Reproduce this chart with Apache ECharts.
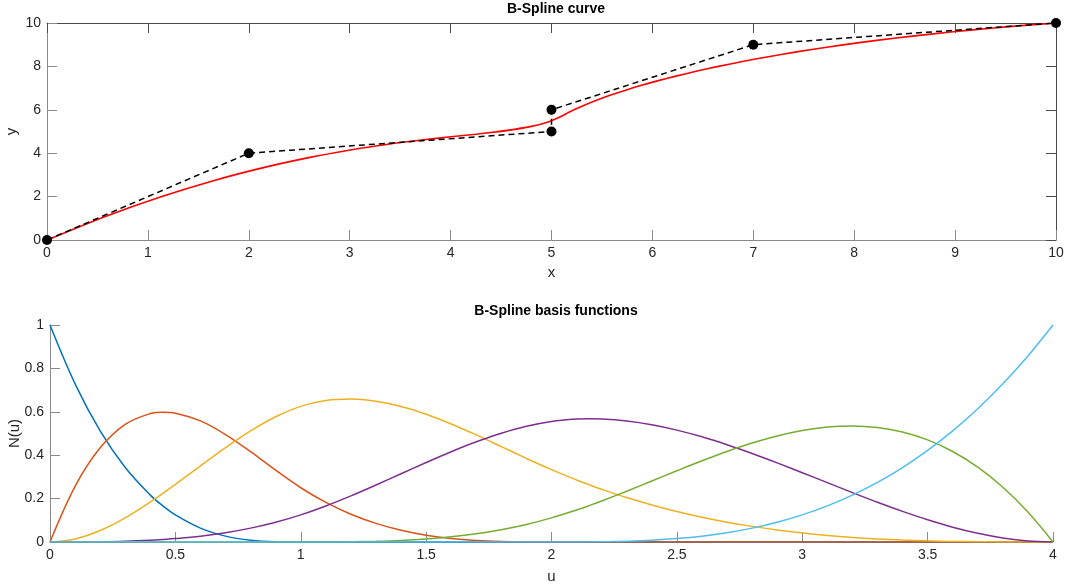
<!DOCTYPE html>
<html>
<head>
<meta charset="utf-8">
<script src="https://cdn.jsdelivr.net/npm/echarts@6/dist/echarts.min.js"></script>
<style>
html,body{margin:0;padding:0;background:#fff;}
#c{width:1067px;height:585px;}
</style>
</head>
<body>
<div id="c"></div>
<script>
// Control polygon
var ctrlX = [0, 2, 5, 5, 7, 10];
var ctrlY = [0, 4, 5, 6, 9, 10];

// B-spline curve samples
var curveX = [0,0.585,1.138,1.658,2.144,2.594,3.006,3.379,3.712,4.003,4.25,4.453,4.618,4.749,4.852,4.934,5.0,5.056,5.108,5.161,5.222,5.296,5.383,5.485,5.602,5.734,5.883,6.049,6.232,6.433,6.653,6.892,7.15,7.429,7.729,8.05,8.394,8.76,9.149,9.562,10];
var curveY = [0,1.098,2.007,2.746,3.336,3.797,4.149,4.413,4.608,4.755,4.875,4.984,5.088,5.189,5.289,5.391,5.496,5.607,5.727,5.857,6.0,6.157,6.328,6.511,6.704,6.906,7.116,7.332,7.552,7.775,8.0,8.225,8.448,8.668,8.884,9.094,9.296,9.489,9.672,9.843,10];

// Parameter samples for basis functions
var uVals = [0,0.1,0.2,0.3,0.4,0.45,0.5,0.6,0.7,0.8,0.9,1,
             1.1,1.2,1.3,1.4,1.5,1.6,1.7,1.8,1.9,2,
             2.1,2.15,
             2.2,2.3,2.4,2.5,2.6,2.7,2.8,2.9,3,3.1,3.2,3.3,3.4,3.5,3.6,3.7,3.8,3.9,4];

var N0 = [1,0.729,0.512,0.343,0.216,0.1664,0.125,0.064,0.027,0.008,0.001,0,
          0,0,0,0,0,0,0,0,0,0,
          0,0,
          0,0,0,0,0,0,0,0,0,0,0,0,0,0,0,0,0,0,0];
var N1 = [0,0.2568,0.434,0.5423,0.592,0.5982,0.5938,0.558,0.4953,0.416,0.3308,0.25,
          0.1823,0.128,0.0858,0.054,0.0313,0.016,0.0068,0.002,0.0003,0,
          0,0,
          0,0,0,0,0,0,0,0,0,0,0,0,0,0,0,0,0,0,0];
var N2 = [0,0.0141,0.053,0.1114,0.184,0.224,0.2656,0.351,0.4349,0.512,0.5771,0.625,
          0.6517,0.6587,0.6486,0.6243,0.5885,0.544,0.4935,0.4397,0.3854,0.3333,
          0.2858,0.2638,
          0.243,0.2047,0.1707,0.1406,0.1143,0.0915,0.072,0.0555,0.0417,0.0304,0.0213,0.0143,0.009,0.0052,0.0027,0.0011,0.0003,0.00004,0];
var N3 = [0,0.0001,0.001,0.0034,0.008,0.0114,0.0156,0.027,0.0429,0.064,0.0911,0.125,
          0.1659,0.2124,0.2626,0.3146,0.3663,0.416,0.4617,0.5014,0.5334,0.5556,
          0.5666,0.568,
          0.567,0.5579,0.5404,0.5156,0.4846,0.4483,0.408,0.3647,0.3194,0.2734,0.2276,0.1831,0.141,0.1024,0.0684,0.0401,0.0186,0.0048,0];
var N4 = [0,0,0,0,0,0,0,0,0,0,0,0,
          0.0001,0.0009,0.003,0.0071,0.0139,0.024,0.0381,0.0569,0.081,0.1111,
          0.1475,0.1677,
          0.189,0.234,0.2809,0.3281,0.3741,0.4173,0.456,0.4887,0.5139,0.5299,0.5351,0.528,0.507,0.4705,0.4169,0.3446,0.2521,0.1378,0];
var N5 = [0,0,0,0,0,0,0,0,0,0,0,0,
          0,0,0,0,0,0,0,0,0,0,
          0.0001,0.0004,
          0.001,0.0034,0.008,0.0156,0.027,0.0429,0.064,0.0911,0.125,0.1664,0.216,0.2746,0.343,0.4219,0.512,0.6141,0.729,0.8574,1];

var basisColors = ['#0072BD','#D95319','#EDB120','#7E2F8E','#77AC30','#4DBEEE'];
var basis = [N0, N1, N2, N3, N4, N5];

function zip(a, b) { return a.map(function (v, i) { return [v, b[i]]; }); }

var FONT = 'Liberation Sans, Arial, sans-serif';
var TXT = '#262626';
var AX = '#8a8a8a';
var BOX = '#4a4a4a';

function mainAxis(extra) {
  var o = {
    type: 'value',
    axisLine: { show: true, onZero: false, lineStyle: { color: AX, width: 1 } },
    axisTick: { show: true, inside: true, length: 10, lineStyle: { color: AX } },
    axisLabel: { color: TXT, fontFamily: FONT, fontSize: 14, margin: 6 },
    splitLine: { show: false },
    nameLocation: 'middle',
    nameMoveOverlap: false,
    nameTextStyle: { color: TXT, fontFamily: FONT, fontSize: 15 }
  };
  for (var k in extra) o[k] = extra[k];
  return o;
}
function boxAxis(extra) {
  var o = {
    type: 'value',
    axisLine: { show: true, onZero: false, lineStyle: { color: BOX, width: 1 } },
    axisTick: { show: true, inside: true, length: 10, lineStyle: { color: BOX } },
    axisLabel: { show: false },
    splitLine: { show: false }
  };
  for (var k in extra) o[k] = extra[k];
  return o;
}

var series = [];
series.push({
  type: 'line', xAxisIndex: 0, yAxisIndex: 0,
  data: zip(curveX, curveY), showSymbol: false, symbol: 'none', smooth: 0.3,
  lineStyle: { color: '#ff0000', width: 1.6 }, z: 2, animation: false
});
series.push({
  type: 'line', xAxisIndex: 0, yAxisIndex: 0,
  data: zip(ctrlX, ctrlY), symbol: 'circle', symbolSize: 10,
  itemStyle: { color: '#000' },
  lineStyle: { color: '#000', width: 1.5, type: [6, 4] }, z: 3, animation: false
});
basis.forEach(function (arr, i) {
  series.push({
    type: 'line', xAxisIndex: 1, yAxisIndex: 1,
    data: zip(uVals, arr), symbol: 'none', smooth: 0.35,
    lineStyle: { color: basisColors[i], width: 1.5 }, z: 2 + i, animation: false
  });
});

var chart = echarts.init(document.getElementById('c'), null, { renderer: 'canvas' });
chart.setOption({
  backgroundColor: '#fff',
  animation: false,
  title: [
    { text: 'B-Spline curve', left: 551, top: -3, textAlign: 'center',
      textStyle: { fontFamily: FONT, fontSize: 14, fontWeight: 'bold', color: '#000' } },
    { text: 'B-Spline basis functions', left: 551, top: 299, textAlign: 'center',
      textStyle: { fontFamily: FONT, fontSize: 14, fontWeight: 'bold', color: '#000' } }
  ],
  grid: [
    { left: 47, right: 11, top: 23, height: 217, containLabel: false, outerBoundsMode: 'none' },
    { left: 50, right: 14, top: 325, height: 217, containLabel: false, outerBoundsMode: 'none' }
  ],
  xAxis: [
    mainAxis({ gridIndex: 0, min: 0, max: 10, interval: 1, name: 'x', nameGap: 25 }),
    mainAxis({ gridIndex: 1, min: 0, max: 4, interval: 0.5, name: 'u', nameGap: 27 }),
    boxAxis({ gridIndex: 0, position: 'top', min: 0, max: 10, interval: 1 })
  ],
  yAxis: [
    mainAxis({ gridIndex: 0, min: 0, max: 10, interval: 2, name: 'y', nameGap: 28 }),
    mainAxis({ gridIndex: 1, min: 0, max: 1, interval: 0.2, name: 'N(u)', nameGap: 28 }),
    boxAxis({ gridIndex: 0, position: 'right', min: 0, max: 10, interval: 2 })
  ],
  series: series
});
</script>
</body>
</html>
